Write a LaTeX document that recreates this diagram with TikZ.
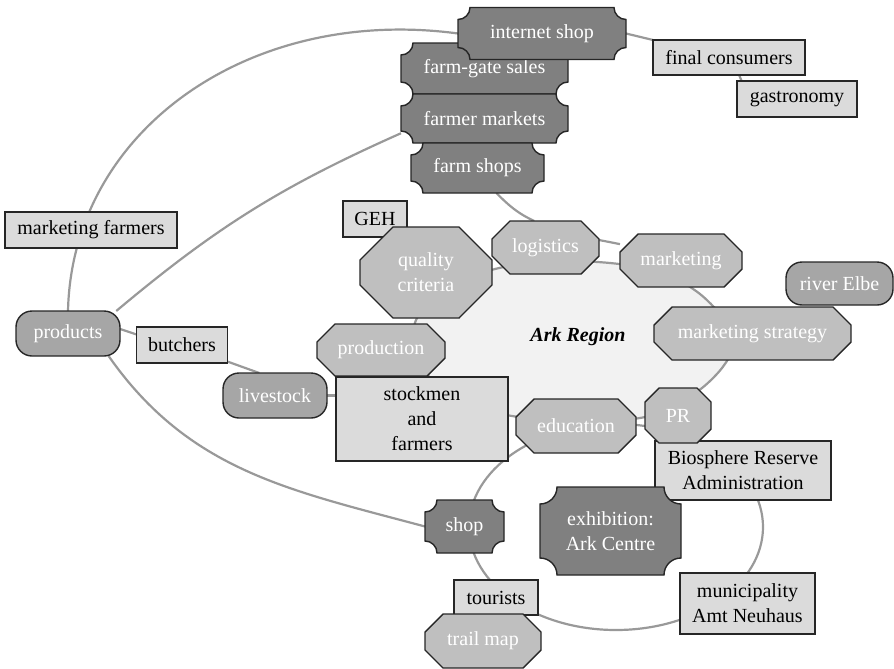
\documentclass[tikz,border=0pt]{standalone}
\usepackage{fontspec}
\setmainfont{Liberation Serif}
\usetikzlibrary{backgrounds}

\colorlet{ticketBg}{black!50}
\colorlet{octBg}{black!25}
\colorlet{roundBg}{black!35}
\colorlet{boxBg}{black!14}
\colorlet{regionBg}{black!5}
\colorlet{linkGray}{black!40}
\colorlet{nodeBorder}{black!85}

\pgfkeys{/tikz/ticket radius/.initial=6pt}
\pgfkeys{/tikz/oct cut/.initial=9pt}

\makeatletter
% box with concave (cut out) corners
\pgfdeclareshape{ticket}{
  \inheritsavedanchors[from=rectangle]
  \inheritanchorborder[from=rectangle]
  \inheritanchor[from=rectangle]{center}
  \inheritanchor[from=rectangle]{north}
  \inheritanchor[from=rectangle]{south}
  \inheritanchor[from=rectangle]{east}
  \inheritanchor[from=rectangle]{west}
  \inheritanchor[from=rectangle]{north east}
  \inheritanchor[from=rectangle]{north west}
  \inheritanchor[from=rectangle]{south east}
  \inheritanchor[from=rectangle]{south west}
  \inheritanchor[from=rectangle]{base}
  \inheritanchor[from=rectangle]{mid}
  \backgroundpath{
    \southwest \edef\tkxa{\the\pgf@x}\edef\tkya{\the\pgf@y}
    \northeast \edef\tkxb{\the\pgf@x}\edef\tkyb{\the\pgf@y}
    \pgfmathsetlength\pgf@xc{\pgfkeysvalueof{/tikz/ticket radius}}
    \edef\tkr{\the\pgf@xc}
    \pgfpathmoveto{\pgfpoint{\tkxa+\tkr}{\tkya}}
    \pgfpathlineto{\pgfpoint{\tkxb-\tkr}{\tkya}}
    \pgfpatharc{180}{90}{\tkr}
    \pgfpathlineto{\pgfpoint{\tkxb}{\tkyb-\tkr}}
    \pgfpatharc{270}{180}{\tkr}
    \pgfpathlineto{\pgfpoint{\tkxa+\tkr}{\tkyb}}
    \pgfpatharc{0}{-90}{\tkr}
    \pgfpathlineto{\pgfpoint{\tkxa}{\tkya+\tkr}}
    \pgfpatharc{90}{0}{\tkr}
    \pgfpathclose
  }
}

% box with cut off corners
\pgfdeclareshape{octbox}{
  \inheritsavedanchors[from=rectangle]
  \inheritanchorborder[from=rectangle]
  \inheritanchor[from=rectangle]{center}
  \inheritanchor[from=rectangle]{north}
  \inheritanchor[from=rectangle]{south}
  \inheritanchor[from=rectangle]{east}
  \inheritanchor[from=rectangle]{west}
  \inheritanchor[from=rectangle]{north east}
  \inheritanchor[from=rectangle]{north west}
  \inheritanchor[from=rectangle]{south east}
  \inheritanchor[from=rectangle]{south west}
  \inheritanchor[from=rectangle]{base}
  \inheritanchor[from=rectangle]{mid}
  \backgroundpath{
    \southwest \edef\ocxa{\the\pgf@x}\edef\ocya{\the\pgf@y}
    \northeast \edef\ocxb{\the\pgf@x}\edef\ocyb{\the\pgf@y}
    \pgfmathsetlength\pgf@xc{\pgfkeysvalueof{/tikz/oct cut}}
    \edef\occ{\the\pgf@xc}
    \pgfpathmoveto{\pgfpoint{\ocxa+\occ}{\ocya}}
    \pgfpathlineto{\pgfpoint{\ocxb-\occ}{\ocya}}
    \pgfpathlineto{\pgfpoint{\ocxb}{\ocya+\occ}}
    \pgfpathlineto{\pgfpoint{\ocxb}{\ocyb-\occ}}
    \pgfpathlineto{\pgfpoint{\ocxb-\occ}{\ocyb}}
    \pgfpathlineto{\pgfpoint{\ocxa+\occ}{\ocyb}}
    \pgfpathlineto{\pgfpoint{\ocxa}{\ocyb-\occ}}
    \pgfpathlineto{\pgfpoint{\ocxa}{\ocya+\occ}}
    \pgfpathclose
  }
}
\makeatother

\tikzset{
  every node/.style={font=\fontsize{10}{12.5}\selectfont, align=center, inner sep=0pt, outer sep=0pt},
  dims/.style 2 args={minimum width=#1*0.5pt, minimum height=#2*0.5pt},
  ticketnode/.style={shape=ticket, fill=ticketBg, draw=nodeBorder, line width=0.7pt, text=white},
  octnode/.style={shape=octbox, fill=octBg, draw=nodeBorder, line width=0.7pt, text=white},
  roundnode/.style={rectangle, rounded corners=8pt, fill=roundBg, draw=nodeBorder, line width=0.7pt, text=white},
  boxnode/.style={rectangle, fill=boxBg, draw=nodeBorder, line width=0.7pt, text=black},
  link/.style={draw=linkGray, line width=1.1pt},
}

\begin{document}
\begin{tikzpicture}[x=0.5pt, y=0.5pt]
   \useasboundingbox (0,0) rectangle (894,-669);

   % Ark Region
   \begin{scope}[on background layer]
      \filldraw[fill=regionBg, link] plot[smooth cycle] coordinates {
         (416,-320) (445,-288) (495,-269) (550,-261) (610,-263) (662,-272)
         (700,-294) (726,-322) (733,-347) (722,-368) (702,-388) (672,-407)
         (640,-418) (576,-422) (512,-416) (470,-405) (432,-380) (416,-350)};
   \end{scope}
   \node[font=\fontsize{10}{12.5}\selectfont\bfseries\itshape] (ark) at (578,-337) {Ark Region};

   \node[boxnode, dims={152}{35}] (fcons) at (729,-57.5) {final consumers};
   \node[boxnode, dims={120}{36}] (gastro) at (797,-99) {gastronomy};
   \node[boxnode, dims={172}{36}] (mfarm) at (91,-230) {marketing farmers};
   \node[boxnode, dims={91}{36}] (butch) at (182,-345) {butchers};
   \node[boxnode, dims={64}{36}] (geh) at (375,-219) {GEH};
   \node[boxnode, dims={176}{59}] (bra) at (743,-470.5) {Biosphere Reserve\\Administration};
   \node[boxnode, dims={135}{61}] (muni) at (747.5,-603.5) {municipality\\Amt Neuhaus};
   \node[boxnode, dims={84}{35}] (tour) at (496,-597.5) {tourists};

   \node[roundnode, dims={104}{45}] (products) at (68,-333.5) {products};
   \node[roundnode, dims={104}{45}] (livestock) at (275,-395.5) {livestock};
   \node[roundnode, dims={107}{43}] (elbe) at (839.5,-283.5) {river Elbe};

   \node[octnode, oct cut=16.5pt, dims={132}{91}] (qual) at (426,-272.5) {quality\\criteria};
   \node[octnode, dims={107}{53}] (logist) at (545.5,-247.5) {logistics};
   \node[octnode, dims={122}{53}] (mktg) at (681,-260.5) {marketing};
   \node[octnode, dims={197}{53}] (mstrat) at (752.5,-333.5) {marketing strategy};
   \node[octnode, dims={128}{52}] (prod) at (381,-350) {production};
   \node[boxnode, dims={172}{84}] (stock) at (422,-419) {stockmen\\and\\farmers};
   \node[octnode, dims={120}{54}] (edu) at (576,-426) {education};
   \node[octnode, oct cut=7pt, dims={66}{55}] (pr) at (678,-415.5) {PR};
   \node[octnode, dims={116}{54}] (trail) at (483,-641) {trail map};

   \node[ticketnode, dims={167}{51}] (fgate) at (484.5,-68.5) {farm-gate sales};
   \node[ticketnode, dims={167}{49}] (fmkt) at (484.5,-118.5) {farmer markets};
   \node[ticketnode, dims={133}{50}] (fshops) at (477.5,-168) {farm shops};
   \node[ticketnode, dims={168}{52}] (inet) at (542,-33.5) {internet shop};
   \node[ticketnode, dims={79}{53}] (shop) at (464.5,-526.5) {shop};
   \node[ticketnode, ticket radius=8.5pt, dims={141}{88}] (exhib) at (610.5,-531) {exhibition:\\Ark Centre};

   \begin{scope}[on background layer]
      \draw[link] (products.north) .. controls +(4,181) and +(-208,28) .. (inet.west);
      \draw[link] (products.25) to[bend left=8] (fmkt.190);
      \draw[link] (products.5) -- (butch.167);
      \draw[link] (butch.-20) -- (livestock.125);
      \draw[link] (livestock.east) -- (livestock.east -| stock.west);
      \draw[link] (products.-29) to[out=-55, in=165] (shop.west);
      \draw[link] (inet.east) -- (fcons.north west);
      \draw[link] (fcons.-60) -- (gastro.162);
      \draw[link] (fshops.-53) to[out=-45, in=155] (logist.113);
      \draw[link] (logist.8) -- (mktg.165);

      % ring round the exhibition
      \coordinate (ringmid) at (616,-527);
      \draw[link] (ringmid) ellipse [x radius=147, y radius=103];
   \end{scope}

\end{tikzpicture}
\end{document}
